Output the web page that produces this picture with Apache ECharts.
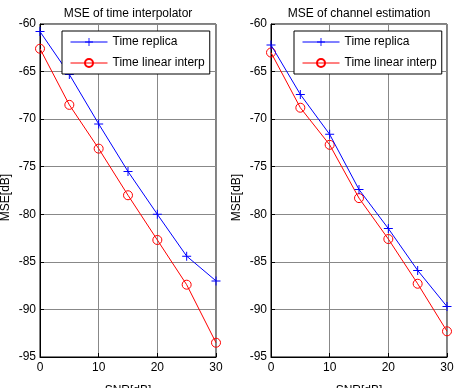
<!DOCTYPE html>
<html>
<head>
<meta charset="utf-8">
<script src="https://cdn.jsdelivr.net/npm/echarts@6/dist/echarts.min.js"></script>
<style>
  html, body { margin: 0; padding: 0; background: #fff; }
  #chart { width: 454px; height: 388px; }
</style>
</head>
<body>
<div id="chart"></div>
<script>
// SNR points (x axis)
const snr = [0, 5, 10, 15, 20, 25, 30];

// left panel: MSE of time interpolator
const interpReplica = [-60.8, -65.3, -70.5, -75.5, -80.0, -84.4, -87.0];
const interpLinear = [-62.6, -68.5, -73.1, -78.0, -82.7, -87.4, -93.5];

// right panel: MSE of channel estimation
const chanReplica = [-62.2, -67.4, -71.6, -77.4, -81.5, -85.9, -89.7];
const chanLinear = [-63.0, -68.8, -72.7, -78.3, -82.6, -87.3, -92.3];

const titles = ['MSE of time interpolator', 'MSE of channel estimation'];
const seriesNames = ['Time replica', 'Time linear interp'];

const font = 'Liberation Sans, Arial, sans-serif';
const plusPath = 'path://M-0.11,-1H0.11V1H-0.11Z M-1,-0.11H1V0.11H-1Z';

const chart = echarts.init(document.getElementById('chart'));

const grids = [
  { left: 40, top: 24, width: 176, height: 333 },
  { left: 271, top: 24, width: 176, height: 333 },
];

function zip(ys) {
  return snr.map((x, i) => [x, ys[i]]);
}

function xAxis(idx) {
  return {
    type: 'value', gridIndex: idx, min: 0, max: 30, interval: 10,
    name: 'SNR[dB]', nameLocation: 'middle', nameGap: 28,
    nameTextStyle: { color: '#000', fontFamily: font, fontSize: 12 },
    axisLine: { show: true, lineStyle: { color: '#000' } },
    axisTick: { show: true, inside: true, length: 4, lineStyle: { color: '#000' } },
    axisLabel: { color: '#000', fontFamily: font, fontSize: 12, margin: 5 },
    splitLine: { show: true, lineStyle: { color: '#888', width: 1 } },
  };
}

function yAxis(idx) {
  return {
    type: 'value', gridIndex: idx, min: -95, max: -60, interval: 5,
    name: 'MSE[dB]', nameLocation: 'middle', nameGap: 28,
    nameTextStyle: { color: '#000', fontFamily: font, fontSize: 12, padding: [0, 14, 0, 0] },
    axisLine: { show: true, lineStyle: { color: '#000' } },
    axisTick: { show: true, inside: true, length: 4, lineStyle: { color: '#000' } },
    axisLabel: { color: '#000', fontFamily: font, fontSize: 12, margin: 4 },
    splitLine: { show: true, lineStyle: { color: '#888', width: 1 } },
  };
}

function legend(left) {
  return {
    left: left, top: 31, orient: 'vertical',
    data: seriesNames,
    itemWidth: 37, itemHeight: 10, itemGap: 9,
    padding: [5, 5, 5, 8],
    backgroundColor: '#fff', borderColor: '#000', borderWidth: 1,
    lineStyle: { width: 1 },
    textStyle: { color: '#000', fontFamily: font, fontSize: 12 },
    selectedMode: false,
  };
}

function lineSeries(name, idx, data, isReplica) {
  const color = isReplica ? '#0000ff' : '#ff0000';
  return {
    name: name, type: 'line', xAxisIndex: idx, yAxisIndex: idx,
    data: zip(data),
    symbol: isReplica ? plusPath : 'circle',
    symbolSize: 9,
    showAllSymbol: true,
    color: color,
    lineStyle: { color: color, width: 1 },
    itemStyle: isReplica
      ? { color: color, borderWidth: 0 }
      : { color: 'rgba(255,255,255,0)', borderColor: color, borderWidth: 1 },
    emphasis: { disabled: true },
    animation: false,
    z: isReplica ? 3 : 2,
  };
}

const option = {
  backgroundColor: '#fff',
  animation: false,
  title: titles.map((t, i) => ({
    text: t,
    left: grids[i].left + grids[i].width / 2 - 5,
    top: 3,
    textAlign: 'center',
    textStyle: { color: '#000', fontFamily: font, fontSize: 12, fontWeight: 'normal' },
  })),
  legend: [legend(62), legend(294)],
  grid: grids.map(g => Object.assign({
    show: true, borderColor: '#000', borderWidth: 1, backgroundColor: '#fff',
    containLabel: false, outerBoundsMode: 'none',
  }, g)),
  xAxis: [xAxis(0), xAxis(1)],
  yAxis: [yAxis(0), yAxis(1)],
  series: [
    lineSeries(seriesNames[0], 0, interpReplica, true),
    lineSeries(seriesNames[1], 0, interpLinear, false),
    lineSeries(seriesNames[0], 1, chanReplica, true),
    lineSeries(seriesNames[1], 1, chanLinear, false),
  ],
};

chart.setOption(option);
</script>
</body>
</html>
